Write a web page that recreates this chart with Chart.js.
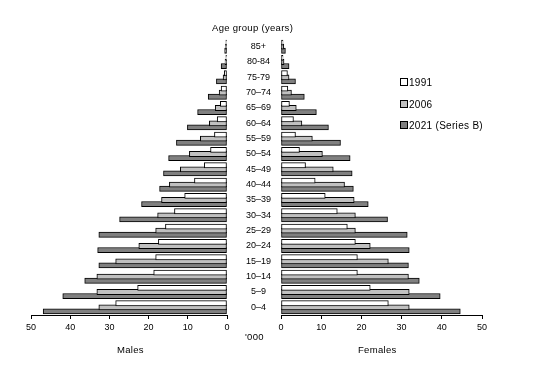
<!DOCTYPE html>
<html>
<head>
<meta charset="utf-8">
<script src="https://cdn.jsdelivr.net/npm/chart.js@4.4.1/dist/chart.umd.min.js"></script>
<style>
  html, body { margin: 0; padding: 0; background: #fff; }
  #wrap { position: relative; width: 555px; height: 377px; overflow: hidden; font-family: "Liberation Sans", Arial, sans-serif; color: #000; }
  canvas { position: absolute; top: 0; }
  .txt { position: absolute; font-size: 9.5px; white-space: nowrap; letter-spacing: 0.3px; }
  .leg { position: absolute; font-size: 10px; white-space: nowrap; letter-spacing: 0.3px; }
  .leg span.box { display: inline-block; width: 6px; height: 6px; border: 1px solid #000; margin-right: 1px; vertical-align: -0px; }
</style>
</head>
<body>
<div id="wrap">
  <canvas id="left" width="240" height="377" style="left:0px"></canvas>
  <canvas id="right" width="325" height="377" style="left:230px"></canvas>
  <div class="txt" id="title" style="left:212px; top:22px;">Age group (years)</div>
  <div class="txt" style="left:245px; top:331px;">'000</div>
  <div class="txt" style="left:117px; top:344px;">Males</div>
  <div class="txt" style="left:358px; top:344px;">Females</div>
  <div id="legend"></div>
</div>
<script>
const ageGroups = ["85+","80-84","75-79","70–74","65–69","60–64","55–59","50–54","45–49","40–44","35–39","30–34","25–29","20–24","15–19","10–14","5–9","0–4"];
const seriesNames = ["1991","2006","2021 (Series B)"];
const seriesColors = ["#ffffff","#c0c0c0","#808080"];
const xTicks = [0,10,20,30,40,50];

const males1991 = [0.3,0.3,0.7,1.5,1.7,2.5,3.2,4.2,5.8,8.3,10.8,13.4,15.7,17.5,18.2,18.7,22.8,28.4];
const males2006 = [0.4,0.5,1.0,2.0,3.0,4.5,6.8,9.6,11.9,14.7,16.7,17.7,18.2,22.5,28.4,33.2,33.2,32.7];
const males2021 = [0.6,1.5,2.7,4.8,7.5,10.1,12.9,14.9,16.2,17.2,21.8,27.4,32.7,33.0,32.7,36.3,41.9,46.9];
const females1991 = [0.5,0.5,1.6,1.7,2.1,3.1,3.6,4.6,6.1,8.5,11.0,14.0,16.5,18.5,19.0,19.0,22.2,26.7];
const females2006 = [0.7,0.75,2.0,2.6,3.8,5.2,7.8,10.3,13.0,15.8,18.2,18.5,18.5,22.2,26.7,31.7,31.9,31.9];
const females2021 = [1.1,2.0,3.6,5.8,8.8,11.8,14.8,17.2,17.7,18.0,21.7,26.5,31.4,31.9,31.7,34.4,39.6,44.6];

Chart.defaults.font.family = '"Liberation Sans", Arial, sans-serif';
Chart.defaults.font.size = 9;
Chart.defaults.color = '#000';
Chart.defaults.animation = false;

function makeDatasets(a, b, c) {
  return [a, b, c].map((d, i) => ({
    label: seriesNames[i],
    data: d,
    backgroundColor: seriesColors[i],
    borderColor: '#000',
    borderWidth: 1,
    borderSkipped: false,
    categoryPercentage: 0.8,
    barPercentage: 1.25
  }));
}

function xAxis(reverse) {
  return {
    type: 'linear', min: 0, max: 50, reverse: reverse,
    afterBuildTicks: s => { s.ticks = xTicks.map(v => ({value: v})); },
    afterFit: s => { s.height = 62; },
    grid: { display: true, drawOnChartArea: false, drawTicks: true, tickLength: 4, color: '#000', tickColor: '#000' },
    border: { display: true, color: '#000', width: 1 },
    ticks: { padding: 3, maxRotation: 0, autoSkip: false, font: { size: 9 } }
  };
}

new Chart(document.getElementById('left'), {
  type: 'bar',
  data: { labels: ageGroups, datasets: makeDatasets(males1991, males2006, males2021) },
  options: {
    responsive: false, indexAxis: 'y',
    layout: { padding: { left: 31, right: 13, top: 39, bottom: 0 } },
    plugins: { legend: { display: false }, tooltip: { enabled: false } },
    scales: {
      x: xAxis(true),
      y: { display: false }
    }
  }
});

new Chart(document.getElementById('right'), {
  type: 'bar',
  data: { labels: ageGroups, datasets: makeDatasets(females1991, females2006, females2021) },
  options: {
    responsive: false, indexAxis: 'y',
    layout: { padding: { left: 0, right: 73, top: 39, bottom: 0 } },
    plugins: { legend: { display: false }, tooltip: { enabled: false } },
    scales: {
      x: xAxis(false),
      y: {
        position: 'left',
        afterFit: s => { s.width = 51; },
        grid: { display: false, drawTicks: false },
        border: { display: false },
        ticks: { crossAlign: 'center', padding: 10, autoSkip: false, font: { size: 9 } }
      }
    }
  }
});

const legend = document.getElementById('legend');
const legendTops = [77, 99, 120];
seriesNames.forEach((n, i) => {
  const d = document.createElement('div');
  d.className = 'leg';
  d.style.left = '400px';
  d.style.top = legendTops[i] + 'px';
  d.innerHTML = '<span class="box" style="background:' + seriesColors[i] + '"></span>' + n;
  legend.appendChild(d);
});
</script>
</body>
</html>
